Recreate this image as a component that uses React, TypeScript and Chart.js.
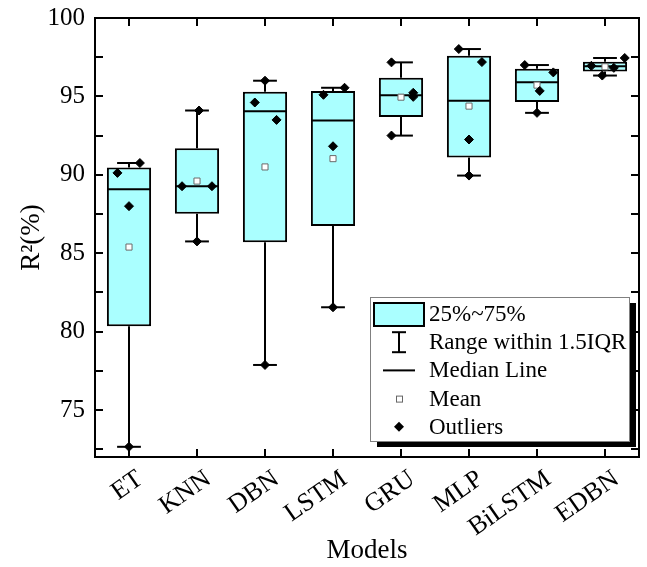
import React, { useEffect, useRef } from 'react';
import { Chart, registerables } from 'chart.js';

Chart.register(...registerables);

// ---------- data ----------
const CATEGORIES = ['ET', 'KNN', 'DBN', 'LSTM', 'GRU', 'MLP', 'BiLSTM', 'EDBN'];
const Q1 = [80.34, 87.52, 85.69, 86.73, 93.69, 91.1, 94.65, 96.59];
const Q3 = [90.46, 91.69, 95.29, 95.34, 96.19, 97.6, 96.76, 97.21];
const MEDIANS = [89.07, 89.27, 94.06, 93.46, 95.08, 94.72, 95.91, 96.93];
const WHISKER_LOW = [72.65, 85.75, 77.87, 81.55, 92.5, 89.95, 93.95, 96.33];
const WHISKER_HIGH = [90.75, 94.1, 96.0, 95.55, 97.17, 98.02, 97.0, 97.45];
const MEANS = [85.39, 89.6, 90.5, 91.03, 94.95, 94.38, 95.72, 96.89];
const POINTS = [
  [90.12, 88.0, 90.75, 72.65],
  [89.27, 89.27, 85.75, 94.1],
  [94.61, 93.5, 96.0, 77.87],
  [95.1, 91.82, 95.55, 81.55],
  [95.23, 94.97, 97.17, 92.5],
  [97.19, 92.25, 98.02, 89.95],
  [96.53, 95.35, 97.0, 93.95],
  [97.45, 96.95, 96.82, 96.33],
];
const Y_TICK_LABELS = [75, 80, 85, 90, 95, 100];
const Y_MIN = 72;
const Y_MAX = 100;
const Y_MINOR_STEP = 2.5;
const LEGEND_LABELS = ['25%~75%', 'Range within 1.5IQR', 'Median Line', 'Mean', 'Outliers'];
const X_TITLE = 'Models';
const Y_TITLE = 'R²(%)';

// ---------- layout / style ----------
// horizontal jitter of the plotted data points (fraction of a category width)
const POINT_JITTER = [
  [-0.17, 0, 0.16, 0],
  [-0.22, 0.22, 0, 0.03],
  [-0.15, 0.17, 0, 0],
  [-0.14, 0, 0.17, 0],
  [0.18, 0.18, -0.14, -0.14],
  [0.19, 0, -0.15, 0],
  [0.24, 0.04, -0.18, 0],
  [0.29, -0.2, 0.13, -0.04],
];
const FONT = "'Liberation Serif', 'Times New Roman', serif";
const TICK_SIZE = 25;
const XLABEL_SIZE = 26;
const TITLE_SIZE = 27;
const LEGEND_SIZE = 23;
const BOX_FILL = '#aaffff';
const BOX_FRAC = 0.65;
const CAP_FRAC = 0.175;
const LABEL_ANGLE = 35;

const decorPlugin = {
  id: 'boxDecor',
  afterDatasetDraw(chart: any, args: any) {
    if (args.index !== 0) return;
    const { ctx } = chart;
    const xs = chart.scales.x;
    const ys = chart.scales.y;
    const cw = xs.getPixelForValue(1) - xs.getPixelForValue(0);
    const bw = (cw * BOX_FRAC) / 2;
    const capW = cw * CAP_FRAC;
    ctx.save();
    ctx.strokeStyle = '#000';
    ctx.lineWidth = 2;
    const line = (x1: number, y1: number, x2: number, y2: number) => {
      ctx.beginPath();
      ctx.moveTo(x1, y1);
      ctx.lineTo(x2, y2);
      ctx.stroke();
    };
    CATEGORIES.forEach((_, i) => {
      const cx = xs.getPixelForValue(i);
      const yq1 = ys.getPixelForValue(Q1[i]);
      const yq3 = ys.getPixelForValue(Q3[i]);
      const yl = ys.getPixelForValue(WHISKER_LOW[i]);
      const yh = ys.getPixelForValue(WHISKER_HIGH[i]);
      const ym = ys.getPixelForValue(MEDIANS[i]);
      line(cx, yq3, cx, yh);
      line(cx - capW, yh, cx + capW, yh);
      line(cx, yq1, cx, yl);
      line(cx - capW, yl, cx + capW, yl);
      line(cx - bw + 1, ym, cx + bw - 1, ym);
    });
    ctx.restore();
  },
  afterDraw(chart: any) {
    const { ctx, chartArea } = chart;
    const { left, right, top, bottom } = chartArea;
    const xs = chart.scales.x;
    const ys = chart.scales.y;
    ctx.save();
    ctx.strokeStyle = '#000';
    ctx.lineWidth = 2;
    const line = (x1: number, y1: number, x2: number, y2: number) => {
      ctx.beginPath();
      ctx.moveTo(x1, y1);
      ctx.lineTo(x2, y2);
      ctx.stroke();
    };
    // frame
    ctx.strokeRect(left, top, right - left, bottom - top);
    // y ticks (inward, both sides)
    const tl = 8;
    for (let v = Y_MIN + 0.5; v <= Y_MAX + 1e-6; v += Y_MINOR_STEP) {
      const py = Math.round(ys.getPixelForValue(v));
      line(left, py, left + tl, py);
      line(right, py, right - tl, py);
    }
    // x ticks (inward, top and bottom)
    CATEGORIES.forEach((_, i) => {
      const px = Math.round(xs.getPixelForValue(i));
      line(px, bottom, px, bottom - tl);
      line(px, top, px, top + tl);
    });
    // x labels rotated
    ctx.fillStyle = '#000';
    ctx.font = `${XLABEL_SIZE}px ${FONT}`;
    ctx.textAlign = 'right';
    ctx.textBaseline = 'top';
    CATEGORIES.forEach((c, i) => {
      const px = xs.getPixelForValue(i);
      ctx.save();
      ctx.translate(px + 4, bottom + 9);
      ctx.rotate((-LABEL_ANGLE * Math.PI) / 180);
      ctx.fillText(c, 0, 0);
      ctx.restore();
    });

    // legend
    const LX = right - 269;
    const LY = bottom - 160;
    const LW = 259;
    const LH = 144;
    ctx.fillStyle = '#000';
    ctx.fillRect(LX + 7, LY + 6, LW, LH);
    ctx.fillStyle = '#fff';
    ctx.fillRect(LX, LY, LW, LH);
    ctx.strokeStyle = '#808080';
    ctx.lineWidth = 1;
    ctx.strokeRect(LX + 0.5, LY + 0.5, LW, LH);
    const rowY = (k: number) => LY + 17 + k * 28.2;
    const symX = LX + 29;
    // row 0: box
    ctx.fillStyle = BOX_FILL;
    ctx.fillRect(LX + 4, rowY(0) - 11, 50, 23);
    ctx.strokeStyle = '#000';
    ctx.lineWidth = 2;
    ctx.strokeRect(LX + 4, rowY(0) - 11, 50, 23);
    // row 1: range bar
    const r1 = rowY(1);
    line(symX, r1 - 10, symX, r1 + 10);
    line(symX - 7, r1 - 10, symX + 7, r1 - 10);
    line(symX - 7, r1 + 10, symX + 7, r1 + 10);
    // row 2: median line
    const r2 = rowY(2);
    line(symX - 16, r2, symX + 16, r2);
    // row 3: mean square
    const r3 = rowY(3);
    ctx.fillStyle = '#fff';
    ctx.strokeStyle = '#666';
    ctx.lineWidth = 1;
    ctx.fillRect(symX - 3, r3 - 3, 6, 6);
    ctx.strokeRect(symX - 2.5, r3 - 2.5, 6, 6);
    // row 4: diamond
    const r4 = rowY(4);
    ctx.fillStyle = '#000';
    ctx.beginPath();
    ctx.moveTo(symX, r4 - 5);
    ctx.lineTo(symX + 5, r4);
    ctx.lineTo(symX, r4 + 5);
    ctx.lineTo(symX - 5, r4);
    ctx.closePath();
    ctx.fill();
    // texts
    ctx.fillStyle = '#000';
    ctx.font = `${LEGEND_SIZE}px ${FONT}`;
    ctx.textAlign = 'left';
    ctx.textBaseline = 'middle';
    LEGEND_LABELS.forEach((t, k) => {
      ctx.fillText(t, LX + 59, rowY(k) + 1);
    });
    ctx.restore();
  },
};

export default function App() {
  const ref = useRef<HTMLCanvasElement>(null);
  useEffect(() => {
    const pointData = POINTS.flatMap((vals, i) =>
      vals.map((v, j) => ({ x: i + POINT_JITTER[i][j], y: v }))
    );
    const chart = new Chart(ref.current as HTMLCanvasElement, {
      type: 'bar',
      data: {
        labels: CATEGORIES,
        datasets: [
          {
            type: 'bar',
            label: '25%~75%',
            data: Q1.map((q, i) => [q, Q3[i]]) as any,
            backgroundColor: BOX_FILL,
            borderColor: '#000',
            borderWidth: 2,
            borderSkipped: false,
            barPercentage: BOX_FRAC,
            categoryPercentage: 1,
            grouped: false,
            xAxisID: 'x',
            yAxisID: 'y',
            order: 3,
          } as any,
          {
            type: 'scatter',
            label: 'Mean',
            data: MEANS.map((m, i) => ({ x: i, y: m })),
            xAxisID: 'xj',
            yAxisID: 'y',
            pointStyle: 'rect',
            pointRadius: 4.3,
            backgroundColor: '#fff',
            borderColor: '#6a6a6a',
            borderWidth: 1,
            order: 2,
          } as any,
          {
            type: 'scatter',
            label: 'Outliers',
            data: pointData,
            xAxisID: 'xj',
            yAxisID: 'y',
            pointStyle: 'rectRot',
            pointRadius: 4.5,
            backgroundColor: '#000',
            borderColor: '#000',
            borderWidth: 1,
            order: 1,
          } as any,
        ],
      },
      options: {
        responsive: false,
        animation: false,
        layout: { padding: { left: 0, top: 18, right: 8, bottom: 0 } },
        plugins: { legend: { display: false }, tooltip: { enabled: false } },
        scales: {
          x: {
            type: 'category',
            offset: true,
            grid: { display: false, drawTicks: false },
            border: { display: false },
            ticks: { display: false },
            title: {
              display: true,
              text: X_TITLE,
              color: '#000',
              font: { size: TITLE_SIZE, family: FONT },
              padding: { top: 0, bottom: 0 },
            },
            afterFit: (s: any) => {
              s.height = 110;
            },
          },
          xj: {
            type: 'linear',
            position: 'bottom',
            display: false,
            offset: false,
            bounds: 'data',
            min: -0.5,
            max: CATEGORIES.length - 0.5,
            grid: { offset: false },
          },
          y: {
            type: 'linear',
            min: Y_MIN,
            max: Y_MAX,
            grid: { display: false, drawTicks: false },
            border: { display: false },
            afterBuildTicks: (s: any) => {
              s.ticks = Y_TICK_LABELS.map((v) => ({ value: v }));
            },
            ticks: {
              color: '#000',
              font: { size: TICK_SIZE, family: FONT, lineHeight: 0.6 },
              padding: 10,
            },
            title: {
              display: true,
              text: Y_TITLE,
              color: '#000',
              font: { size: TITLE_SIZE, family: FONT },
              padding: { top: 16, bottom: 0 },
            },
            afterFit: (s: any) => {
              s.width = 95;
            },
          },
        },
      } as any,
      plugins: [decorPlugin],
    });
    return () => chart.destroy();
  }, []);
  return (
    <div style={{ position: 'absolute', left: 0, top: 0, width: 647, height: 567 }}>
      <canvas ref={ref} width={647} height={567} style={{ display: 'block' }} />
    </div>
  );
}
